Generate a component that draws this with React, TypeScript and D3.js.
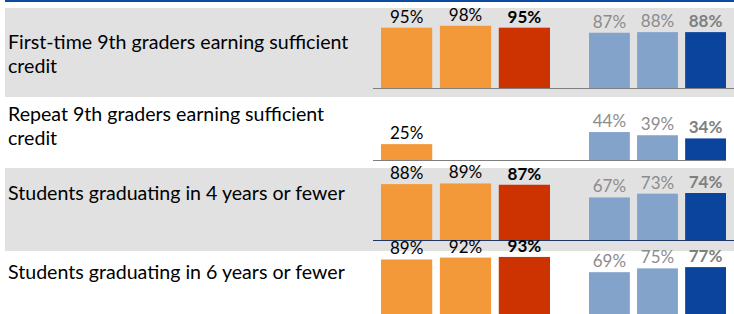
import React from 'react';
import * as d3 from 'd3';

// category labels, one entry per row (lines already broken as in the original)
const categories: string[][] = [
  ['First-time 9th graders earning sufficient', 'credit'],
  ['Repeat 9th graders earning sufficient', 'credit'],
  ['Students graduating in 4 years or fewer'],
  ['Students graduating in 6 years or fewer'],
];

// school (orange) series, three years
const school1: (number | null)[] = [95, 25, 88, 89];
const school2: (number | null)[] = [98, null, 89, 92];
const school3: (number | null)[] = [95, null, 87, 93];

// comparison (blue) series, three years
const compare1: (number | null)[] = [87, 44, 67, 69];
const compare2: (number | null)[] = [88, 39, 73, 75];
const compare3: (number | null)[] = [88, 34, 74, 77];

const W = 734;
const H = 314;
const FONT = 'Lato, Carlito, Calibri, sans-serif';

// row layout: band top, band bottom, bar baseline, first text baseline
const rowBaseline = [88, 160, 240, 316];
const rowBandTop = [8, 97, 168, 251];
const rowBandBottom = [97, 168, 251, 314];
const rowTextY = [49, 121, 200, 279];
const shaded = [true, false, true, false];
const axisEnd = [734, 726, 734, 734];
const axisColor = ['#7f7f7f', '#7f7f7f', '#1f3864', 'none'];

const series = [
  { key: 's1', values: school1, group: 'school', color: '#f4993a', text: '#000', bold: false },
  { key: 's2', values: school2, group: 'school', color: '#f4993a', text: '#000', bold: false },
  { key: 's3', values: school3, group: 'school', color: '#cc3300', text: '#000', bold: true },
  { key: 'c1', values: compare1, group: 'compare', color: '#84a3cb', text: '#8c8c8c', bold: false },
  { key: 'c2', values: compare2, group: 'compare', color: '#84a3cb', text: '#8c8c8c', bold: false },
  { key: 'c3', values: compare3, group: 'compare', color: '#0b449c', text: '#7f7f7f', bold: true },
];

const App: React.FC = () => {
  const rowIdx = d3.range(categories.length);
  const base = d3.scaleOrdinal<number, number>().domain(rowIdx).range(rowBaseline);

  const xSchool = d3.scaleBand<string>()
    .domain(['s1', 's2', 's3'])
    .range([381, 550])
    .paddingInner(0.13);
  const xCompare = d3.scaleBand<string>()
    .domain(['c1', 'c2', 'c3'])
    .range([589, 726])
    .paddingInner(0.15);

  const h = d3.scaleLinear().domain([0, 100]).range([0, 63.5]);

  const xOf = (s: typeof series[number]) =>
    s.group === 'school' ? (xSchool(s.key) || 0) : (xCompare(s.key) || 0);
  const wOf = (s: typeof series[number]) =>
    s.group === 'school' ? xSchool.bandwidth() : xCompare.bandwidth();

  return (
    <div style={{ position: 'fixed', left: 0, top: 0, width: W, height: H, background: '#fff' }}>
      <svg width={W} height={H} style={{ display: 'block', fontFamily: FONT }}>
        <rect x={5} y={0} width={W - 5} height={2} fill="#0b4a9e" />
        {rowIdx.map(i => (
          <g key={i}>
            {shaded[i] && (
              <rect x={5} y={rowBandTop[i]} width={W - 5} height={rowBandBottom[i] - rowBandTop[i]} fill="#e1e1e1" />
            )}
            <text x={8} y={rowTextY[i]} fontSize={19.6} fill="#000">
              {categories[i].map((line, j) => (
                <tspan key={j} x={8} dy={j === 0 ? 0 : 24}>{line}</tspan>
              ))}
            </text>
            {series.map(s => {
              const v = s.values[i];
              if (v == null) return null;
              const x = xOf(s);
              const w = wOf(s);
              const y0 = base(i);
              return (
                <g key={s.key}>
                  <rect x={x} y={y0 - h(v)} width={w} height={h(v)} fill={s.color} />
                  <text
                    x={x + w / 2}
                    y={y0 - h(v) - 5}
                    textAnchor="middle"
                    fontSize={17}
                    fontWeight={s.bold ? 700 : 400}
                    fill={s.text}
                  >
                    {`${v}%`}
                  </text>
                </g>
              );
            })}
            {axisColor[i] !== 'none' && (
              <line x1={373} x2={axisEnd[i]} y1={base(i) + 0.5} y2={base(i) + 0.5} stroke={axisColor[i]} strokeWidth={1} />
            )}
          </g>
        ))}
      </svg>
    </div>
  );
};

export default App;
